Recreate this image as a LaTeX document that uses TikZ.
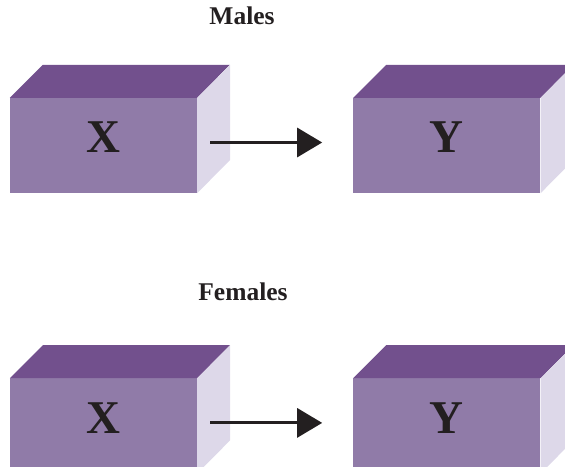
\documentclass[tikz,border=0pt]{standalone}
\usepackage{fontspec}
\setmainfont{Liberation Serif}
\usetikzlibrary{positioning,arrows.meta}

\definecolor{frontcol}{HTML}{907BA8}
\definecolor{topcol}{HTML}{72508D}
\definecolor{sidecol}{HTML}{DDD8E9}
\definecolor{inkcol}{HTML}{231F20}

\tikzset{
  front/.style={fill=frontcol, minimum width=187pt, minimum height=95pt, inner sep=0pt,
    text depth=16pt, text=inkcol, font=\fontsize{47}{47}\selectfont\bfseries},
  title/.style={text=inkcol, font=\fontsize{25.5}{26}\selectfont\bfseries},
  link/.style={-{Triangle[length=25pt,width=29pt]}, line width=3pt, draw=inkcol}
}

% top and side faces of a box, hung on the front node
\newcommand{\boxfaces}[1]{%
  \fill[topcol] (#1.north west) -- ++(33,-33) -- ++(187,0) -- (#1.north east) -- cycle;
  \fill[sidecol] (#1.north east) -- ++(33,-33) -- ++(0,95) -- (#1.south east) -- cycle;
}

\begin{document}
\begin{tikzpicture}[x=1pt, y=-1pt]
    \useasboundingbox (0,0) rectangle (565,466);
    \clip (0,0) rectangle (565,466);

    % Males
    \node[title] (males) at (242,16) {Males};
    \node[front] (x1) at (103.5,145.5) {X};
    \node[front, right=156pt of x1] (y1) {Y};
    \boxfaces{x1}
    \boxfaces{y1}
    \draw[link] ([xshift=13pt,yshift=3pt]x1.east) -- ([xshift=-31pt,yshift=3pt]y1.west);

    % Females
    \node[title] (females) at (243,292) {Females};
    \node[front, below=185pt of x1] (x2) {X};
    \node[front, right=156pt of x2] (y2) {Y};
    \boxfaces{x2}
    \boxfaces{y2}
    \draw[link] ([xshift=13pt,yshift=3pt]x2.east) -- ([xshift=-31pt,yshift=3pt]y2.west);

\end{tikzpicture}
\end{document}
